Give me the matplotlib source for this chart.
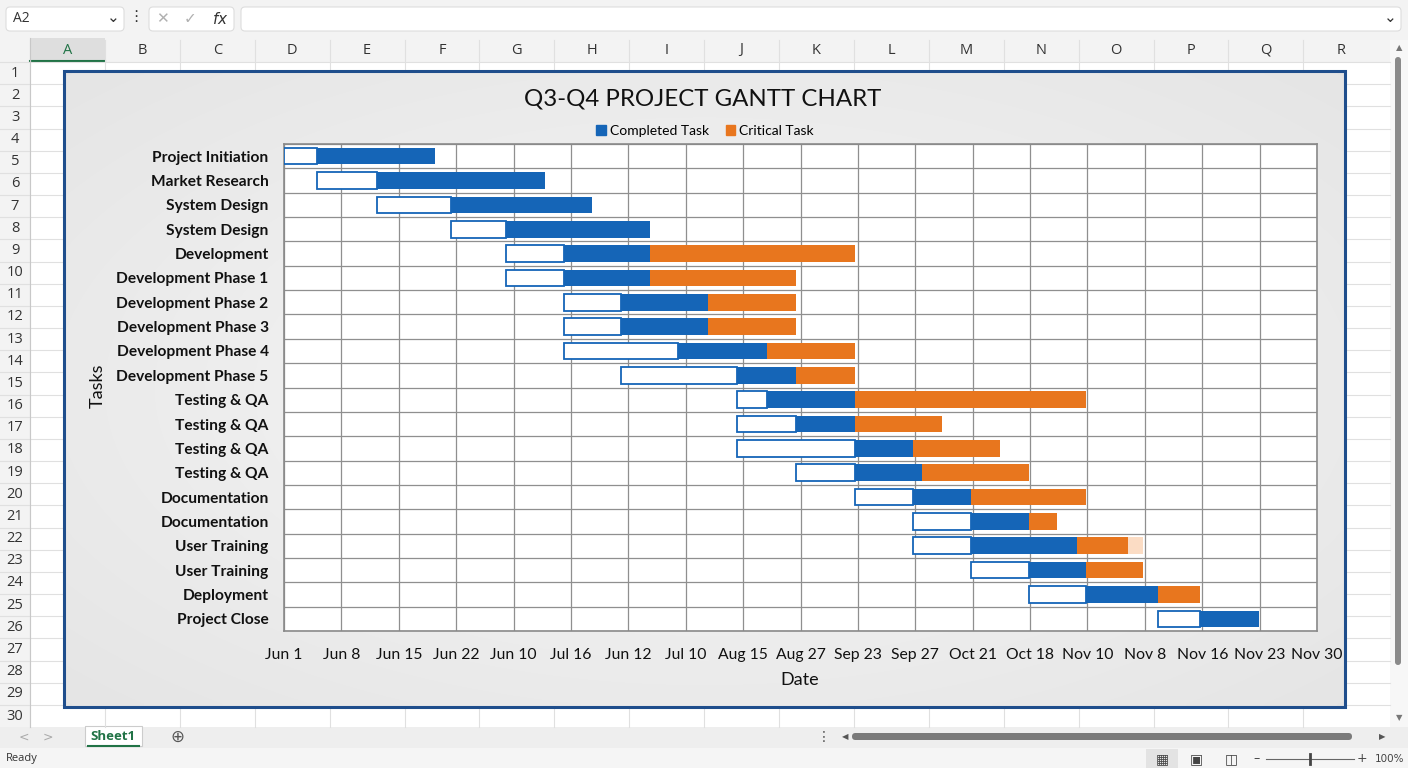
import matplotlib.pyplot as plt
import matplotlib.patches as mpatches
import numpy as np

# ---- data (units = one date column on the axis) ----
tasks = ["Project Initiation", "Market Research", "System Design", "System Design",
         "Development", "Development Phase 1", "Development Phase 2", "Development Phase 3",
         "Development Phase 4", "Development Phase 5", "Testing & QA", "Testing & QA",
         "Testing & QA", "Testing & QA", "Documentation", "Documentation",
         "User Training", "User Training", "Deployment", "Project Close"]
start     = [0.0, 0.58, 1.62, 2.91, 3.87, 3.87, 4.88, 4.88, 4.88, 5.87,
             7.89, 7.89, 7.89, 8.92, 9.95, 10.96, 10.96, 11.97, 12.98, 15.23]
pending   = [0.58, 1.04, 1.29, 0.96, 1.01, 1.01, 0.99, 0.99, 1.98, 2.02,
             0.52, 1.03, 2.06, 1.03, 1.01, 1.01, 1.01, 1.01, 0.99, 0.73]
completed = [2.05, 2.93, 2.46, 2.51, 1.50, 1.50, 1.52, 1.52, 1.55, 1.03,
             1.54, 1.03, 1.01, 1.16, 1.01, 1.01, 1.85, 0.99, 1.26, 1.03]
critical  = [0.0, 0.0, 0.0, 0.0, 3.57, 2.54, 1.53, 1.53, 1.54, 1.03,
             4.02, 1.51, 1.51, 1.87, 2.00, 0.49, 0.88, 1.00, 0.73, 0.0]
faded     = [0.0] * 16 + [0.27, 0.0, 0.0, 0.0]
date_labels = ["Jun 1", "Jun 8", "Jun 15", "Jun 22", "Jun 10", "Jul 16", "Jun 12",
               "Jul 10", "Aug 15", "Aug 27", "Sep 23", "Sep 27", "Oct 21", "Oct 18",
               "Nov 10", "Nov 8", "Nov 16", "Nov 23", "Nov 30"]
col_letters = list("ABCDEFGHIJKLMNOPQR")

BLUE = "#1565b7"
ORANGE = "#e8761e"
FONT = "Lato"
UIFONT = ["Open Sans", "DejaVu Sans"]

W, H = 1408, 768
fig = plt.figure(figsize=(W / 100, H / 100), dpi=100)
fig.patch.set_facecolor("white")

# ---- spreadsheet backdrop (pixel coordinates) ----
bg = fig.add_axes([0, 0, 1, 1])
bg.set_xlim(0, W)
bg.set_ylim(H, 0)
bg.axis("off")

def rect(x0, y0, x1, y1, **kw):
    bg.add_patch(mpatches.Rectangle((x0, y0), x1 - x0, y1 - y0, **kw))

ui = dict(family=UIFONT, color="#333333")
# formula bar
rect(0, 0, W, 38, facecolor="#f3f3f3", edgecolor="none")
bg.add_patch(mpatches.FancyBboxPatch((6, 7), 118, 24, boxstyle="round,pad=0,rounding_size=4",
                                     facecolor="white", edgecolor="#dddddd", lw=0.8))
bg.text(13, 19, "A2", fontsize=10, va="center", **ui)
bg.text(113, 18, "⌄", fontsize=11, va="center", ha="center", **ui)
bg.text(136, 18, "⋮", fontsize=11, va="center", ha="center", **ui)
bg.add_patch(mpatches.FancyBboxPatch((149, 7), 85, 24, boxstyle="round,pad=0,rounding_size=4",
                                     facecolor="white", edgecolor="#dddddd", lw=0.8))
bg.text(162, 19, "✕", fontsize=11, va="center", ha="center", color="#b0b0b0")
bg.text(190, 19, "✓", fontsize=11, va="center", ha="center", color="#b0b0b0")
bg.text(220, 19, "$fx$", fontsize=11, va="center", ha="center", color="#333333")
bg.add_patch(mpatches.FancyBboxPatch((241, 7), 1160, 24, boxstyle="round,pad=0,rounding_size=4",
                                     facecolor="white", edgecolor="#dddddd", lw=0.8))
bg.text(1390, 18, "⌄", fontsize=11, va="center", ha="center", **ui)

# column / row headers and cell grid
col_w, row_h, top, left = 74.9, 22.17, 62, 30
rect(0, 38, W, top, facecolor="#f3f3f3", edgecolor="none")
rect(0, top, left, 727, facecolor="#f3f3f3", edgecolor="none")
rect(left, 38, left + col_w, top, facecolor="#dedede", edgecolor="none")
bg.plot([left, left + col_w], [top - 1, top - 1], color="#217346", lw=1.5)
for i, c in enumerate(col_letters):
    x = left + i * col_w
    bg.plot([x, x], [40, 727], color="#e0e0e0", lw=0.8)
    bg.text(x + col_w / 2, 50, c, fontsize=10.5, ha="center", va="center",
            family=UIFONT, color="#217346" if c == "A" else "#333333")
for r in range(1, 31):
    y = top + (r - 1) * row_h
    bg.plot([0, 1390], [y, y], color="#e0e0e0", lw=0.8)
    bg.text(15, y + row_h / 2, str(r), fontsize=10.5, ha="center", va="center", **ui)
bg.plot([left, left], [38, 727], color="#c8c8c8", lw=0.8)

# vertical scrollbar
rect(1390, 40, W, 727, facecolor="#f7f7f7", edgecolor="none")
bg.add_patch(mpatches.FancyBboxPatch((1395, 57), 6, 608, boxstyle="round,pad=0,rounding_size=3",
                                     facecolor="#8a8a8a", edgecolor="none"))
bg.text(1399, 48, "▲", fontsize=6, ha="center", va="center", color="#777777")
bg.text(1399, 718, "▼", fontsize=6, ha="center", va="center", color="#777777")

# sheet tabs + horizontal scrollbar
rect(0, 727, W, 748, facecolor="#eeeeee", edgecolor="none")
bg.text(24, 737, "<", fontsize=9, ha="center", va="center", color="#aaaaaa")
bg.text(48, 737, ">", fontsize=9, ha="center", va="center", color="#aaaaaa")
rect(85, 726, 142, 746, facecolor="white", edgecolor="#cccccc", lw=0.8)
bg.plot([88, 139], [746, 746], color="#217346", lw=1.5)
bg.text(113, 736, "Sheet1", fontsize=9.5, ha="center", va="center",
        family=UIFONT, weight="bold", color="#217346")
bg.text(177, 737, "⊕", fontsize=12, ha="center", va="center", color="#555555")
bg.text(824, 737, "⋮", fontsize=10, ha="center", va="center", color="#555555")
bg.text(845, 737, "◀", fontsize=6, ha="center", va="center", color="#555555")
bg.add_patch(mpatches.FancyBboxPatch((852, 733), 500, 7, boxstyle="round,pad=0,rounding_size=3.5",
                                     facecolor="#7a7a7a", edgecolor="none"))
bg.text(1382, 737, "▶", fontsize=6, ha="center", va="center", color="#555555")

# status bar
rect(0, 748, W, H, facecolor="#f5f5f5", edgecolor="none")
bg.text(6, 759, "Ready", fontsize=8, va="center", **ui)
rect(1146, 749, 1178, H, facecolor="#e3e3e3", edgecolor="none")
bg.text(1162, 759, "▦", fontsize=10, ha="center", va="center", color="#444444")
bg.text(1196, 759, "▣", fontsize=10, ha="center", va="center", color="#444444")
bg.text(1231, 759, "◫", fontsize=10, ha="center", va="center", color="#444444")
bg.text(1257, 759, "–", fontsize=9, ha="center", va="center", color="#444444")
bg.plot([1266, 1354], [759, 759], color="#666666", lw=0.8)
bg.plot([1310, 1310], [754, 764], color="#444444", lw=2)
bg.text(1362, 759, "+", fontsize=9, ha="center", va="center", color="#444444")
bg.text(1390, 759, "100%", fontsize=7.5, ha="center", va="center", color="#444444")

# chart area with soft grey gradient
cx0, cy0, cx1, cy1 = 64, 71, 1345, 707
gx, gy = np.meshgrid(np.linspace(-1, 1, 200), np.linspace(-1, 1, 100))
shade = 0.955 - 0.05 * np.clip(np.sqrt(gx ** 2 + gy ** 2) - 0.2, 0, None)
bg.imshow(shade, extent=[cx0, cx1, cy1, cy0], cmap="gray", vmin=0, vmax=1,
          aspect="auto", interpolation="bilinear", zorder=3)
rect(cx0, cy0, cx1, cy1, facecolor="none", edgecolor="#1f4e8c", lw=2.2, zorder=4)

bg.text(703, 99, "Q3-Q4 PROJECT GANTT CHART", fontsize=17.3, ha="center", va="center",
        family=FONT, color="#111111", zorder=5)
bg.text(98, 386, "Tasks", fontsize=13, rotation=90, ha="center", va="center",
        family=FONT, color="#111111", zorder=5)
bg.text(800, 680, "Date", fontsize=13, ha="center", va="center",
        family=FONT, color="#111111", zorder=5)

# ---- gantt plot ----
x0, y0, x1, y1 = 284, 144, 1317, 631
ax = fig.add_axes([x0 / W, 1 - y1 / H, (x1 - x0) / W, (y1 - y0) / H])
ax.set_facecolor("white")

ypos = np.arange(len(tasks)) + 0.5
left_c = np.array(start) + np.array(pending)
left_r = left_c + np.array(completed)
left_f = left_r + np.array(critical)
bh = 0.68

ax.barh(ypos, pending, left=start, height=bh, color="white", edgecolor=BLUE,
        linewidth=1.3, zorder=3)
ax.barh(ypos, completed, left=left_c, height=bh, color=BLUE, zorder=3,
        label="Completed Task")
ax.barh(ypos, critical, left=left_r, height=bh, color=ORANGE, zorder=3,
        label="Critical Task")
ax.barh(ypos, faded, left=left_f, height=bh, color="#fbdcc4", zorder=3)

ax.set_xlim(0, len(date_labels) - 1)
ax.set_ylim(len(tasks), 0)
ax.set_xticks(np.arange(len(date_labels)))
ax.set_xticklabels(date_labels, family=FONT, fontsize=11.3, color="#111111")
ax.set_yticks(ypos)
ax.set_yticklabels(tasks, family=FONT, fontsize=11.2, weight="bold", color="#111111")
ax.set_yticks(np.arange(len(tasks) + 1), minor=True)
ax.tick_params(axis="both", which="both", length=0)
ax.tick_params(axis="x", pad=12)
ax.tick_params(axis="y", pad=11)
ax.grid(axis="x", which="major", color="#8f8f8f", lw=0.9, zorder=1)
ax.grid(axis="y", which="minor", color="#8f8f8f", lw=0.9, zorder=1)
ax.set_axisbelow(True)
for s in ax.spines.values():
    s.set_color("#8a8a8a")
    s.set_linewidth(1.2)

leg = fig.legend(handles=[mpatches.Patch(color=BLUE, label="Completed Task"),
                          mpatches.Patch(color=ORANGE, label="Critical Task")],
                 loc="center", bbox_to_anchor=(705 / W, 1 - 131 / H), ncol=2,
                 frameon=False, prop={"family": FONT, "size": 10},
                 handlelength=0.7, handleheight=0.7, handletextpad=0.3, columnspacing=1.2)

fig.savefig("out.png", dpi=100)
